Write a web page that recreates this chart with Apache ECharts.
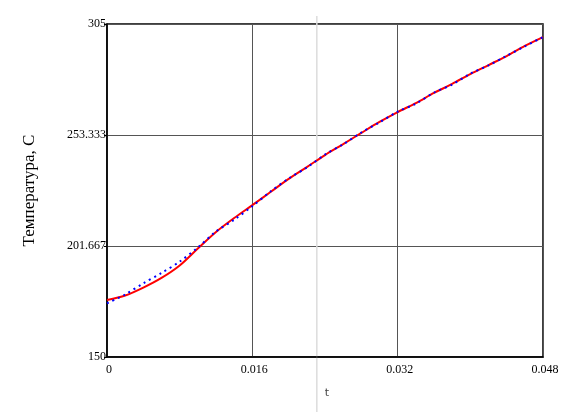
<!DOCTYPE html>
<html>
<head>
<meta charset="utf-8">
<script src="https://cdn.jsdelivr.net/npm/echarts@6/dist/echarts.min.js"></script>
<style>
  html, body { margin: 0; padding: 0; background: #fff; }
  #chart { width: 586px; height: 412px; }
</style>
</head>
<body>
<div id="chart"></div>
<script>
// time points, s
const tValues = [0, 0.002, 0.004, 0.006, 0.008, 0.010, 0.012, 0.014, 0.016, 0.018,
  0.020, 0.022, 0.024, 0.026, 0.028, 0.030, 0.032, 0.034, 0.036, 0.038,
  0.040, 0.042, 0.044, 0.046, 0.048]
// model (red) and measured (blue, dotted)
const redTemp = [176.5, 178.6, 182.3, 186.8, 192.6, 200.5, 208.2, 214.7, 220.7, 226.8,
  232.9, 238.4, 244.0, 249.1, 254.3, 259.4, 264.0, 268.2, 272.9, 277.1,
  281.7, 285.9, 290.1, 294.8, 298.9]
const blueTemp = [175.0, 179.1, 184.3, 189.1, 194.4, 201.0, 208.4, 213.9, 220.2, 227.0,
  233.1, 238.2, 244.2, 249.0, 254.5, 259.2, 264.2, 267.9, 273.1, 276.8,
  281.9, 285.7, 290.2, 294.6, 298.9]
const cursorT = 0.0231

const serif = 'Liberation Serif'
const fmt = (v) => String(Number(v.toFixed(3)))

const chart = echarts.init(document.getElementById('chart'))
chart.setOption({
  animation: false,
  grid: {
    left: 107, top: 24, right: 43, bottom: 55,
    show: true, borderColor: '#000', borderWidth: 1.5, backgroundColor: 'transparent',
  },
  xAxis: {
    type: 'value',
    min: 0, max: 0.048, interval: 0.016,
    name: 't',
    nameLocation: 'middle',
    nameGap: 31,
    nameTextStyle: { fontFamily: 'DejaVu Sans', fontSize: 11, color: '#444', padding: [0, 0, 0, 4] },
    axisLine: { lineStyle: { color: '#000', width: 1.5 } },
    axisTick: { show: false },
    axisLabel: { fontFamily: serif, fontSize: 12, color: '#000', margin: 7, padding: [0, 0, 0, 4], formatter: fmt },
    splitLine: { lineStyle: { color: '#555', width: 1 } },
  },
  yAxis: {
    type: 'value',
    min: 150, max: 305, interval: 155 / 3,
    name: 'Температура, C',
    nameLocation: 'middle',
    nameRotate: 90,
    nameGap: 69,
    nameTextStyle: { fontFamily: serif, fontSize: 17, color: '#000' },
    axisLine: { lineStyle: { color: '#000', width: 1.5 } },
    axisTick: { length: 3, lineStyle: { color: '#000' } },
    axisLabel: { fontFamily: serif, fontSize: 12, color: '#000', margin: 1, formatter: fmt },
    splitLine: { lineStyle: { color: '#555', width: 1 } },
  },
  series: [
    {
      type: 'line',
      data: tValues.map((t, i) => [t, redTemp[i]]),
      showSymbol: false,
      smooth: 0.3,
      lineStyle: { color: '#ff0000', width: 2 },
      z: 3,
    },
    {
      type: 'line',
      data: tValues.map((t, i) => [t, blueTemp[i]]),
      showSymbol: false,
      smooth: 0.3,
      lineStyle: { color: '#0000ff', width: 2, type: [2, 4] },
      z: 4,
    },
  ],
})

// trace cursor, runs past the plot frame
const cx = chart.convertToPixel({ xAxisIndex: 0 }, cursorT)
chart.setOption({
  graphic: [{
    type: 'line',
    z: 0,
    shape: { x1: cx, y1: 16, x2: cx, y2: 412 },
    style: { stroke: '#dcdcdc', lineWidth: 1.5 },
  }],
})
</script>
</body>
</html>
